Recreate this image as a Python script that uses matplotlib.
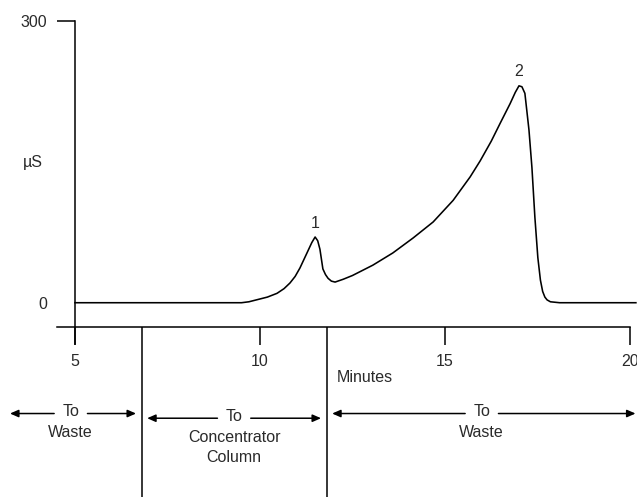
import matplotlib
matplotlib.use("Agg")
import matplotlib.pyplot as plt

plt.rcParams['font.family'] = ['Liberation Sans Narrow', 'Liberation Sans', 'DejaVu Sans']

# ---- data ----
time_min = [5.0, 9.5, 9.7, 9.95, 10.2, 10.46, 10.65, 10.81, 10.95, 11.08, 11.27, 11.4, 11.49,
            11.56, 11.62, 11.70, 11.77, 11.84, 11.93, 12.03, 12.25, 12.5, 13.05, 13.59, 14.14,
            14.68, 15.22, 15.68, 15.95, 16.25, 16.49, 16.76, 16.9, 17.0, 17.08, 17.16, 17.27,
            17.35, 17.43, 17.51, 17.58, 17.64, 17.7, 17.76, 17.85, 18.1, 20.16]
conductivity = [0, 0, 1, 3.5, 6, 10, 15, 21, 28, 37, 53, 64, 70,
                66, 57, 36, 30, 26, 23, 22, 25, 29, 40, 53, 69,
                86, 109, 134, 151, 172, 191, 212, 224, 231, 230, 223, 184,
                144, 91, 48, 24, 12, 6, 3, 1, 0, 0]
peak_times = [11.49, 17.0]
peak_values = [70, 231]
peak_labels = ['1', '2']
x_ticks = [5, 10, 15, 20]
y_ticks = [0, 300]
valve_times = [6.8, 11.8]
region_labels = ['To\nWaste', 'To\nConcentrator\nColumn', 'To\nWaste']

# ---- layout ----
W, H = 637, 497
fig = plt.figure(figsize=(W / 100, H / 100), dpi=100)
ax = fig.add_axes([0, 0, 1, 1])
ax.set_facecolor('white')
XMIN, XMAX = 2.973, 20.19
YMIN, YMAX = -206.9, 322.4
ax.set_xlim(XMIN, XMAX)
ax.set_ylim(YMIN, YMAX)

txt_color = '#2a2a2a'
FS = 11.5

ax.plot(time_min, conductivity, color='black', lw=1.15, solid_joinstyle='round')

for s in ['top', 'right']:
    ax.spines[s].set_visible(False)
ax.spines['left'].set_position(('data', 5))
ax.spines['left'].set_bounds(-44, 300)
ax.spines['bottom'].set_position(('data', -26))
ax.spines['bottom'].set_bounds(4.51, 20)
for s in ['left', 'bottom']:
    ax.spines[s].set_linewidth(1.1)
    ax.spines[s].set_color('black')

ax.set_xticks(x_ticks)
ax.set_xticklabels([str(t) for t in x_ticks])
ax.set_yticks(y_ticks)
ax.set_yticklabels([str(t) for t in y_ticks])
ax.tick_params(axis='x', direction='out', length=13, width=1.1, pad=6,
               labelsize=FS, labelcolor=txt_color)
ax.tick_params(axis='y', direction='out', length=13, width=1.1, pad=7,
               labelsize=FS, labelcolor=txt_color)
# no tick mark at 0
ax.yaxis.get_major_ticks()[0].tick1line.set_visible(False)

ax.set_ylabel('µS', rotation=0, fontsize=FS, color=txt_color, va='center', ha='center')
ax.yaxis.set_label_coords(33 / W, 1 - 163 / H)
ax.set_xlabel('Minutes', fontsize=FS, color=txt_color)
ax.xaxis.label.set_ha('left')
ax.xaxis.label.set_va('center')
ax.xaxis.set_label_coords(337 / W, 1 - 377 / H)

# peak labels
for t, v, lab in zip(peak_times, peak_values, peak_labels):
    ax.annotate(lab, xy=(t, v), xytext=(0, 10), textcoords='offset points',
                ha='center', va='center', fontsize=FS, color=txt_color)

# valve switching lines
ax.vlines(valve_times, YMIN, -26, color='black', lw=1.1)

# region arrows
bounds = [XMIN] + valve_times + [XMAX]
arrow_y = [-118, -123, -118]
for i, lab in enumerate(region_labels):
    a, b = bounds[i], bounds[i + 1]
    c = (a + b) / 2
    y = arrow_y[i]
    tip_l = a + 0.15 if i > 0 else a + 0.27
    tip_r = b - 0.15 if i < len(region_labels) - 1 else b - 0.04
    gap = 0.45
    ap = dict(arrowstyle='-|>,head_length=0.5,head_width=0.22', color='black', lw=1.1,
              shrinkA=0, shrinkB=0)
    ax.annotate('', xy=(tip_l, y), xytext=(c - gap, y), arrowprops=ap)
    ax.annotate('', xy=(tip_r, y), xytext=(c + gap, y), arrowprops=ap)
    ax.annotate(lab, xy=(c, y), xytext=(0, 6.5), textcoords='offset points',
                ha='center', va='top', multialignment='center', linespacing=1.45,
                fontsize=FS, color=txt_color)

fig.savefig('out.png', dpi=100, facecolor='white')
